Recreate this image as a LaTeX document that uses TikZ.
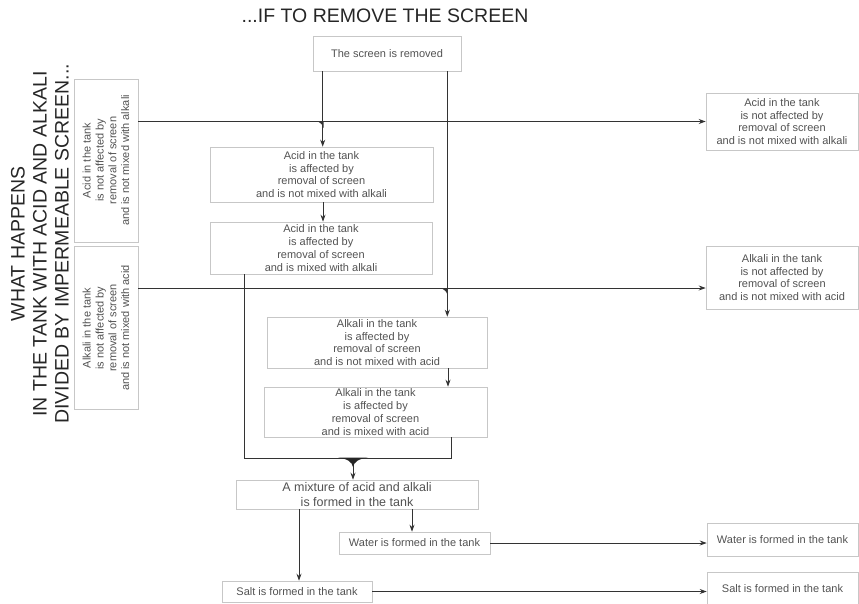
\documentclass[tikz,border=0pt]{standalone}
\usepackage{fontspec}
\setmainfont{Liberation Sans}
\usetikzlibrary{arrows.meta}

\begin{document}
\begin{tikzpicture}[x=1pt, y=-1pt,
  box/.style = {draw=black!22, line width=0.6pt, align=center, inner sep=1pt,
    text=black!68, font=\fontsize{11}{12.8}\selectfont},
  sidebox/.style = {box, rotate=90, minimum width=163pt, minimum height=64pt},
  line/.style = {draw=black!80, line width=0.9pt},
  arr/.style = {line, -{Stealth[length=7pt, width=5pt]}},
  title/.style = {align=center, text=black!85, font=\fontsize{19.5}{22}\selectfont}]
\useasboundingbox (0,0) rectangle (859,603);

% headings
\node[title] (top) at (385,16) {...IF TO REMOVE THE SCREEN};
\node[title, rotate=90] (side) at (40,244) {WHAT HAPPENS\\IN THE TANK WITH ACID AND ALKALI\\DIVIDED BY IMPERMEABLE SCREEN...};

% boxes
\node[box, minimum width=148pt, minimum height=35pt] (scr) at (387,53.5) {The screen is removed};
\node[sidebox] (la) at (106,160.5) {Acid in the tank\\is not affected by\\removal of screen\\and is not mixed with alkali};
\node[sidebox] (lk) at (106,328) {Alkali in the tank\\is not affected by\\removal of screen\\and is not mixed with acid};
\node[box, minimum width=152pt, minimum height=57pt] (ra) at (782,121.5) {Acid in the tank\\is not affected by\\removal of screen\\and is not mixed with alkali};
\node[box, minimum width=152pt, minimum height=63pt] (rk) at (782,277.5) {Alkali in the tank\\is not affected by\\removal of screen\\and is not mixed with acid};
\node[box, minimum width=223pt, minimum height=55pt] (a1) at (321.5,174.5) {Acid in the tank\\is affected by\\removal of screen\\and is not mixed with alkali};
\node[box, minimum width=222pt, minimum height=52pt] (a2) at (321,248) {Acid in the tank\\is affected by\\removal of screen\\and is mixed with alkali};
\node[box, minimum width=220pt, minimum height=51pt] (k1) at (377,342.5) {Alkali in the tank\\is affected by\\removal of screen\\and is not mixed with acid};
\node[box, minimum width=223pt, minimum height=50pt] (k2) at (375.5,412) {Alkali in the tank\\is affected by\\removal of screen\\and is mixed with acid};
\node[box, minimum width=242pt, minimum height=29pt, font=\fontsize{12.5}{14.5}\selectfont] (mix) at (357,494.5) {A mixture of acid and alkali\\is formed in the tank};
\node[box, minimum width=151pt, minimum height=22pt] (wat) at (414.5,543) {Water is formed in the tank};
\node[box, minimum width=150pt, minimum height=21pt] (salt) at (297,591.5) {Salt is formed in the tank};
\node[box, minimum width=151pt, minimum height=33pt] (rw) at (782.5,539.5) {Water is formed in the tank};
\node[box, minimum width=151pt, minimum height=33pt] (rs) at (782.5,588.5) {Salt is formed in the tank};

\coordinate (m) at (353,458);

% connectors
\draw[arr] (ra.west -| la.south) -- (ra.west);
\draw[arr] ([yshift=-10.5]rk.west -| lk.south) -- ([yshift=-10.5]rk.west);
\draw[arr] ([xshift=10]scr.south west) -- ([xshift=10]scr.south west |- a1.north);
\draw[arr] ([xshift=-14]scr.south east) -- ([xshift=-14]scr.south east |- k1.north);
\draw[arr] ([xshift=1.5]a1.south) -- ([xshift=1.5]a1.south |- a2.north);
\draw[arr] ([xshift=71]k1.south) -- ([xshift=71]k1.south |- k2.north);
\draw[line] ([xshift=35]a2.south west) |- (m);
\draw[line] ([xshift=-36]k2.south east) |- (m);
\draw[arr] (m) -- (m |- mix.north);
\draw[arr] ([xshift=-2.5]wat.north |- mix.south) -- ([xshift=-2.5]wat.north);
\draw[arr] ([xshift=2]salt.north |- mix.south) -- ([xshift=2]salt.north);
\draw[arr] (wat.east) -- (wat.east -| rw.west);
\draw[arr] (salt.east) -- (salt.east -| rs.west);

% joints
\fill[black!80] (317,121) -- (323.5,121) -- (323.5,128) .. controls (322,124) .. (317,121);
\fill[black!80] (441,288) -- (447.5,288) -- (447.5,295) .. controls (446,291) .. (441,288);
\fill[black!85] (338,457.5) -- (368,457.5) .. controls (358,459) and (354,462) .. (353,467) .. controls (352,462) and (348,459) .. (338,457.5);
\end{tikzpicture}
\end{document}
